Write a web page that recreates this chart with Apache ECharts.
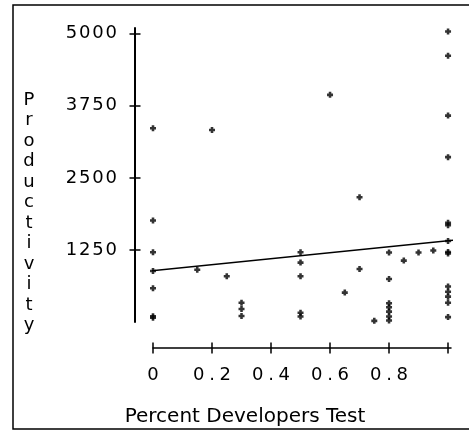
<!DOCTYPE html>
<html>
<head>
<meta charset="utf-8">
<script src="https://cdn.jsdelivr.net/npm/echarts@6/dist/echarts.min.js"></script>
<style>
  html, body { margin: 0; padding: 0; background: #fff; }
  #chart { width: 469px; height: 438px; }
</style>
</head>
<body>
<div id="chart"></div>
<script>
// Share of developers who test vs. productivity, one entry per project
const pctTest = [
  0, 0, 0, 0, 0, 0, 0,
  0.15, 0.2, 0.25,
  0.3, 0.3, 0.3,
  0.5, 0.5, 0.5, 0.5, 0.5,
  0.6, 0.65, 0.7, 0.7, 0.75,
  0.8, 0.8, 0.8, 0.8, 0.8, 0.8, 0.8,
  0.85, 0.9, 0.95,
  1, 1, 1, 1, 1, 1, 1, 1, 1, 1, 1, 1, 1, 1
];
const productivity = [
  3360, 1760, 1210, 885, 585, 100, 75,
  905, 3330, 795,
  335, 225, 105,
  1210, 1030, 795, 160, 95,
  3940, 510, 2165, 920, 20,
  1205, 745, 325, 255, 180, 95, 25,
  1065, 1205, 1240,
  5040, 4620, 3580, 2860, 1720, 1680, 1405, 1215, 1190, 615, 525, 440, 335, 85
];

// Least-squares fit line, drawn between its two end points
const fitX = [-0.04, 1.06];
const fitY = [870, 1442];

// Tick marks and labels
const xTicks = [0, 0.2, 0.4, 0.6, 0.8, 1];
const xLabels = [0, 0.2, 0.4, 0.6, 0.8];
const yTicks = [1250, 2500, 3750, 5000];

const xTitle = 'Percent Developers Test';
const yTitle = 'Productivity';

const points = pctTest.map((x, i) => [x, productivity[i]]);
const fitLine = fitX.map((x, i) => [x, fitY[i]]);

// Monospaced digits: every character sits in a fixed-width cell
const cellText = v => String(v).split('').map(c => '{d|' + c + '}').join('');
const digitRich = {
  d: { width: 13.3, align: 'center', fontFamily: 'DejaVu Sans', fontSize: 18, color: '#000' }
};

const plusMark = 'path://M2,0H5V2H7V5H5V7H2V5H0V2H2Z';

const ink = '#000';

const xBase = {
  type: 'value', min: 0, max: 1.01, position: 'bottom', offset: 26,
  splitLine: { show: false }
};
const yBase = {
  type: 'value', min: 0, max: 5100, position: 'left', offset: 18,
  splitLine: { show: false }
};

const chart = echarts.init(document.getElementById('chart'), null, { renderer: 'canvas' });
chart.setOption({
  animation: false,
  backgroundColor: '#fff',
  grid: { left: 153, right: 18, top: 28, bottom: 116, containLabel: false },
  title: [
    {
      text: yTitle.split('').join('\n'),
      left: 29, top: 90, textAlign: 'center', padding: 0,
      textStyle: { fontFamily: 'DejaVu Sans', fontSize: 18, fontWeight: 'normal', color: ink, lineHeight: 20.5 }
    },
    {
      text: xTitle,
      left: 245, top: 407, textAlign: 'center', padding: 0,
      textStyle: { fontFamily: 'DejaVu Sans', fontSize: 20, fontWeight: 'normal', color: ink }
    }
  ],
  xAxis: [
    Object.assign({}, xBase, {
      axisLine: { show: true, onZero: false, lineStyle: { color: ink, width: 1.5 } },
      axisTick: { show: true, inside: false, length: 5.5, customValues: xTicks, lineStyle: { color: ink, width: 1.5 } },
      axisLabel: { show: true, margin: 18, customValues: xLabels, formatter: v => cellText(v), rich: digitRich }
    }),
    Object.assign({}, xBase, {
      axisLine: { show: false, onZero: false },
      axisTick: { show: true, inside: true, length: 5.5, customValues: xTicks, lineStyle: { color: ink, width: 1.5 } },
      axisLabel: { show: false }
    })
  ],
  yAxis: [
    Object.assign({}, yBase, {
      axisLine: { show: true, onZero: false, lineStyle: { color: ink, width: 2 } },
      axisTick: { show: true, inside: false, length: 5.5, customValues: yTicks, lineStyle: { color: ink, width: 1.5 } },
      axisLabel: { show: true, margin: 17, customValues: yTicks, formatter: v => cellText(v), rich: digitRich }
    }),
    Object.assign({}, yBase, {
      axisLine: { show: false, onZero: false },
      axisTick: { show: true, inside: true, length: 5.5, customValues: yTicks, lineStyle: { color: ink, width: 1.5 } },
      axisLabel: { show: false }
    })
  ],
  series: [
    {
      type: 'scatter',
      xAxisIndex: 0, yAxisIndex: 0,
      data: points,
      symbol: plusMark,
      symbolSize: 6,
      itemStyle: { color: ink },
      clip: false
    },
    {
      type: 'line',
      xAxisIndex: 0, yAxisIndex: 0,
      data: fitLine,
      showSymbol: false,
      symbol: 'none',
      lineStyle: { color: ink, width: 1.5 },
      clip: false
    }
  ],
  graphic: [
    {
      type: 'rect',
      shape: { x: 13, y: 5, width: 480, height: 424 },
      style: { fill: 'none', stroke: ink, lineWidth: 1.5 },
      silent: true
    }
  ]
});
</script>
</body>
</html>
